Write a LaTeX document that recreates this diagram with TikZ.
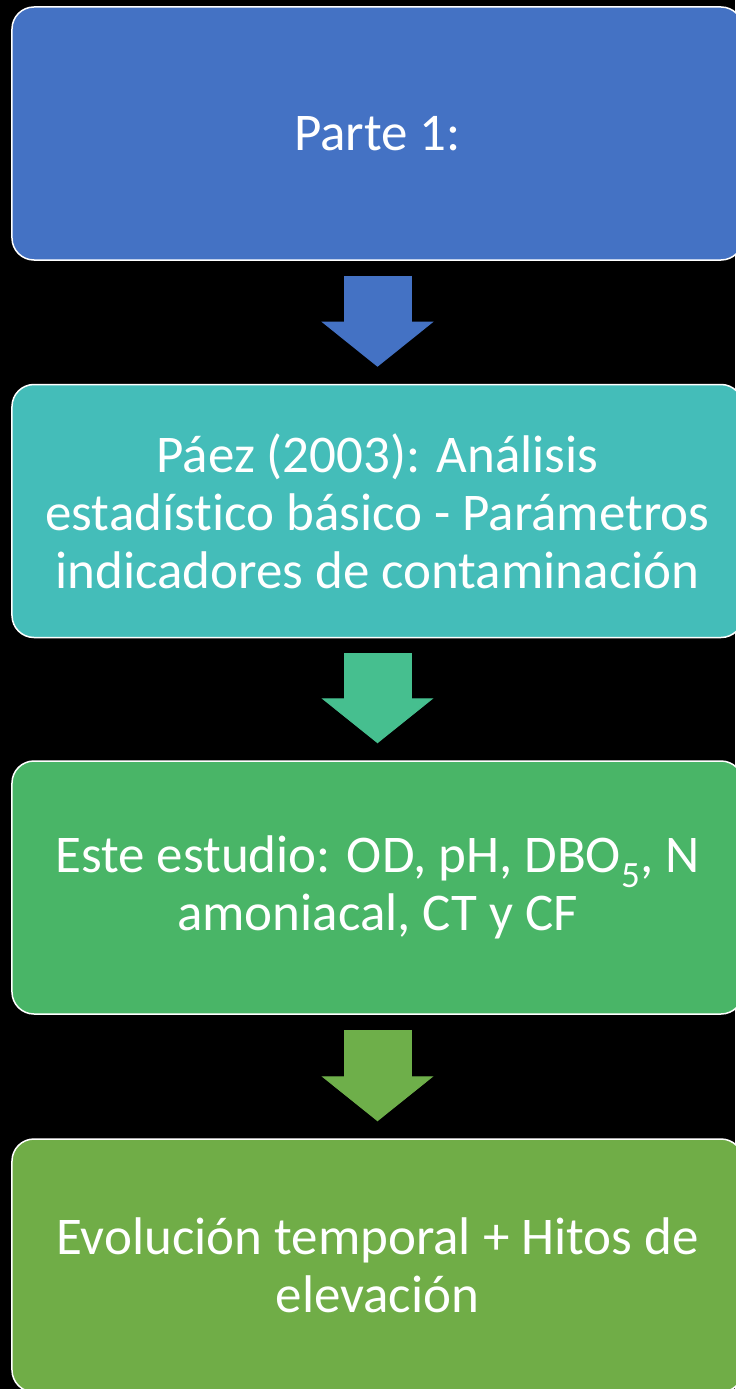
\documentclass[tikz,border=0pt]{standalone}
\usepackage{fontspec}
\setmainfont[Ligatures={NoCommon}]{Carlito}
\usetikzlibrary{arrows.meta}

\definecolor{stageone}{HTML}{4472C4}
\definecolor{stagetwo}{HTML}{44BDB9}
\definecolor{stagethree}{HTML}{49B567}
\definecolor{stagefour}{HTML}{70AD47}
\definecolor{arrowtwo}{HTML}{46BF8F}
\definecolor{arrowthree}{HTML}{6EAF4A}

\tikzset{
  stagebox/.style={draw=white, line width=1.5bp, rounded corners=22bp,
    minimum width=731bp, minimum height=253bp, inner sep=0pt,
    text=white, align=center, font=\fontsize{53bp}{58bp}\selectfont},
  flowarrow/.style={line width=68bp, shorten <=15bp, shorten >=17bp,
    -{Triangle[width=112bp, length=45bp, line width=1bp]}}
}

\begin{document}
\begin{tikzpicture}[x=1bp, y=-1bp]
			%%%%% START %%%%%
			
			\fill[black] (0, 0) rectangle (735, 1389);
			\useasboundingbox (0, 0) rectangle (735, 1389);
			
			\node[stagebox, fill=stageone] (parte) at (377.5, 133.5) {Parte 1:};
			\node[stagebox, fill=stagetwo] (paez) at (377.5, 511) {P\'aez (2003): An\'alisis\\estad\'istico b\'asico - Par\'ametros\\indicadores de contaminaci\'on};
			\node[stagebox, fill=stagethree] (estudio) at (377.5, 887.5) {Este estudio: OD, pH, DBO\textsubscript{5}, N\\amoniacal, CT y CF};
			\node[stagebox, fill=stagefour] (evolucion) at (377.5, 1265.5) {Evoluci\'on temporal + Hitos de\\elevaci\'on};
			
			\draw[flowarrow, color=stageone] (parte) -- (paez);
			\draw[flowarrow, color=arrowtwo] (paez) -- (estudio);
			\draw[flowarrow, color=arrowthree] (estudio) -- (evolucion);
			
			%%%%% END %%%%%
\end{tikzpicture}
\end{document}
